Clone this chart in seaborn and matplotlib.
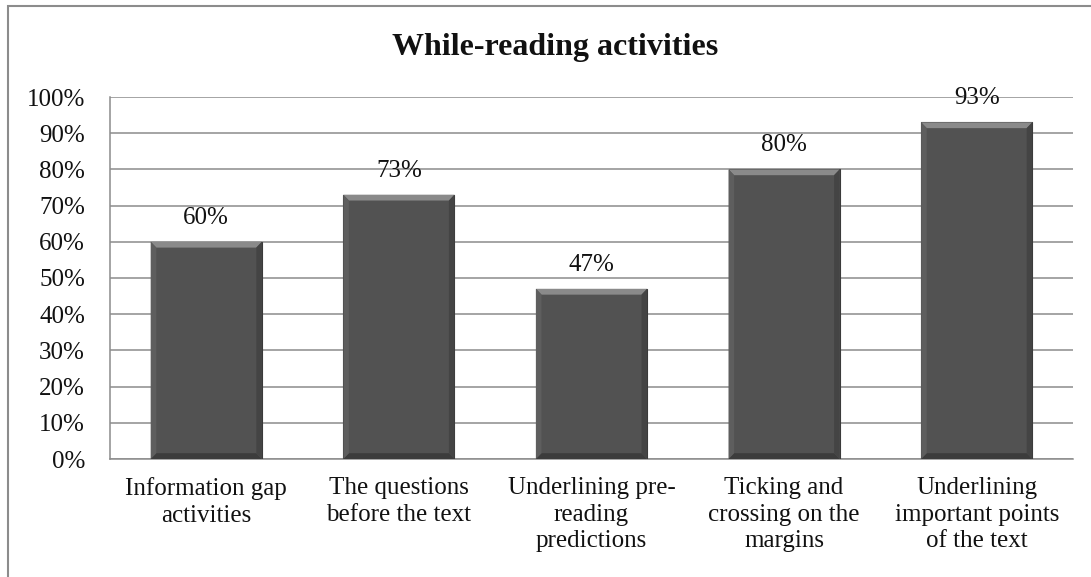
import matplotlib
matplotlib.use("Agg")
import matplotlib.pyplot as plt
import seaborn as sns
import pandas as pd
from matplotlib.patches import Rectangle, Polygon

categories = [
    "Information gap\nactivities",
    "The questions\nbefore the text",
    "Underlining pre-\nreading\npredictions",
    "Ticking and\ncrossing on the\nmargins",
    "Underlining\nimportant points\nof the text",
]
values = [60, 73, 47, 80, 93]
yticks = list(range(0, 101, 10))
title = "While-reading activities"

sns.set_theme(style="white")
plt.rcParams["font.family"] = ["Liberation Serif", "DejaVu Serif"]

df = pd.DataFrame({"activity": categories, "percent": values})

fig = plt.figure(figsize=(10.91, 5.77), dpi=100)
ax = fig.add_axes([110 / 1091, 1 - 459 / 577, (1073 - 110) / 1091, (459 - 97) / 577])

sns.barplot(data=df, x="activity", y="percent", color="#525252", width=0.577,
            saturation=1, edgecolor="#3a3a3a", linewidth=0.8, ax=ax, zorder=3)

# bevelled look on each bar: lighter top/left, darker bottom/right
for p in ax.patches:
    x0, y0, w, h = p.get_x(), p.get_y(), p.get_width(), p.get_height()
    dx = w * 0.05
    dy = 1.6
    ax.add_patch(Polygon([(x0, y0 + h), (x0 + w, y0 + h), (x0 + w - dx, y0 + h - dy),
                          (x0 + dx, y0 + h - dy)], closed=True, facecolor="#8a8a8a",
                         edgecolor="none", zorder=4))
    ax.add_patch(Polygon([(x0, y0), (x0 + w, y0), (x0 + w - dx, y0 + dy),
                          (x0 + dx, y0 + dy)], closed=True, facecolor="#3c3c3c",
                         edgecolor="none", zorder=4))
    ax.add_patch(Polygon([(x0, y0), (x0 + dx, y0 + dy), (x0 + dx, y0 + h - dy),
                          (x0, y0 + h)], closed=True, facecolor="#5e5e5e",
                         edgecolor="none", zorder=4))
    ax.add_patch(Polygon([(x0 + w, y0), (x0 + w - dx, y0 + dy), (x0 + w - dx, y0 + h - dy),
                          (x0 + w, y0 + h)], closed=True, facecolor="#444444",
                         edgecolor="none", zorder=4))

for i, v in enumerate(values):
    ax.text(i, v + 5, f"{v}%", ha="center", va="baseline", fontsize=18, color="#111111",
            zorder=5)

ax.set_ylim(0, 100)
ax.set_xlim(-0.5, len(categories) - 0.5)
ax.set_yticks(yticks)
ax.set_yticklabels([f"{t}%" for t in yticks], fontsize=18, color="#111111")
ax.tick_params(axis="x", labelsize=18, colors="#111111", pad=13, length=0)
ax.tick_params(axis="y", pad=18, length=0)
for lbl in ax.get_xticklabels():
    lbl.set_linespacing(1.27)
ax.set_xlabel("")
ax.set_ylabel("")
ax.yaxis.grid(True, color="#8c8c8c", linewidth=1.1, zorder=0)
ax.set_axisbelow(True)
for s in ["top", "right"]:
    ax.spines[s].set_visible(False)
for s in ["left", "bottom"]:
    ax.spines[s].set_color("#8c8c8c")
    ax.spines[s].set_linewidth(1.1)

fig.text(555 / 1091, 1 - 47 / 577, title, ha="center", va="center", fontsize=23,
         fontweight="bold", color="#111111")

# outer chart frame
fig.patches.append(Rectangle((8 / 1091, -0.05), 1.2, 1 - 6 / 577 + 0.05,
                             transform=fig.transFigure, fill=False,
                             edgecolor="#8c8c8c", linewidth=1.5))

fig.savefig("out.png", dpi=100)
